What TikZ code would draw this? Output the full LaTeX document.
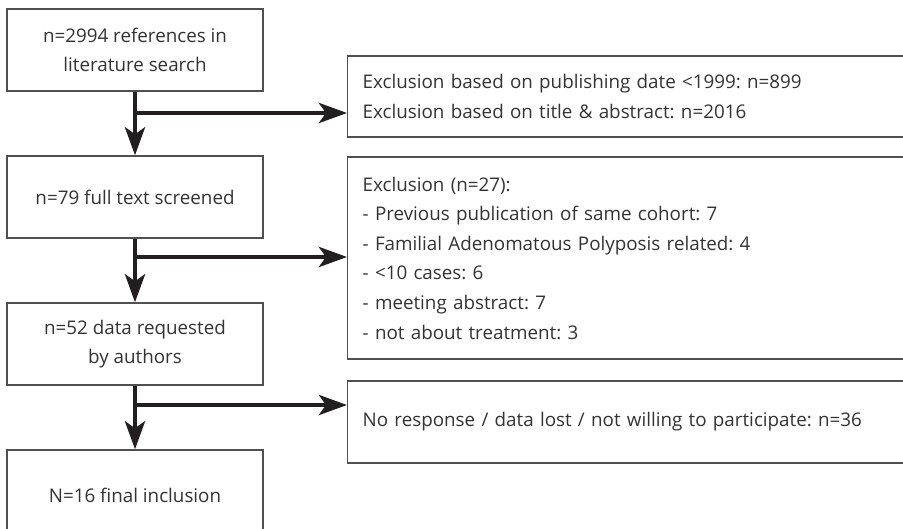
\documentclass[tikz,border=0pt]{standalone}
\usepackage{fontspec}
\setmainfont{Open Sans}
\frenchspacing
\usetikzlibrary{arrows.meta}
\definecolor{boxline}{HTML}{505050}
\definecolor{txt}{HTML}{333333}
\definecolor{arrowcol}{HTML}{231F20}
\begin{document}
\begin{tikzpicture}[x=1pt,y=-1pt,
  box/.style={draw=boxline, line width=1.4pt, rectangle, text=txt,
    font=\fontsize{18.8}{29.6}\selectfont\frenchspacing, inner sep=0pt},
  lbox/.style={box, minimum width=256pt, minimum height=82pt, align=center},
  rbox/.style={box, anchor=west, text width=548pt, inner xsep=15pt, align=left},
  arr/.style={draw=arrowcol, line width=4.6pt,
    -{Stealth[length=28pt, width=20pt, inset=7pt]}}]
\clip (0,0) rectangle (903,528);
\useasboundingbox (0,0) rectangle (903,528);
\node[lbox] (L1) at (135,50) {n=2994 references in\\literature search};
\node[lbox] (L2) at (135,197) {n=79 full text screened};
\node[lbox] (L3) at (135,344) {n=52 data requested\\by authors};
\node[lbox, minimum height=90pt] (L4) at (135,495) {N=16 final inclusion};
\node[rbox, minimum height=81pt] (R1) at (347,96.5)
  {Exclusion based on publishing date <1999: n=899\\Exclusion based on title \& abstract: n=2016};
\node[rbox, minimum height=202pt] (R2) at (347,258)
  {Exclusion (n=27):\\- Previous publication of same cohort: 7\\- Familial Adenomatous Polyposis related: 4\\- <10 cases: 6\\- meeting abstract: 7\\- not about treatment: 3};
\node[rbox, minimum height=82pt] (R3) at (347,422)
  {No response / data lost / not willing to participate: n=36};
\coordinate (j1) at (135,113);
\coordinate (j2) at (135,257);
\coordinate (j3) at (135,405);
\draw[arr] (L1.south) -- (L2.north);
\draw[arr] (L2.south) -- (L3.north);
\draw[arr] (L3.south) -- (L4.north);
\draw[arr] ([xshift=-2.3pt]j1) -- (j1 -| R1.west);
\draw[arr] ([xshift=-2.3pt]j2) -- (j2 -| R2.west);
\draw[arr] ([xshift=-2.3pt]j3) -- (j3 -| R3.west);
\end{tikzpicture}
\end{document}
